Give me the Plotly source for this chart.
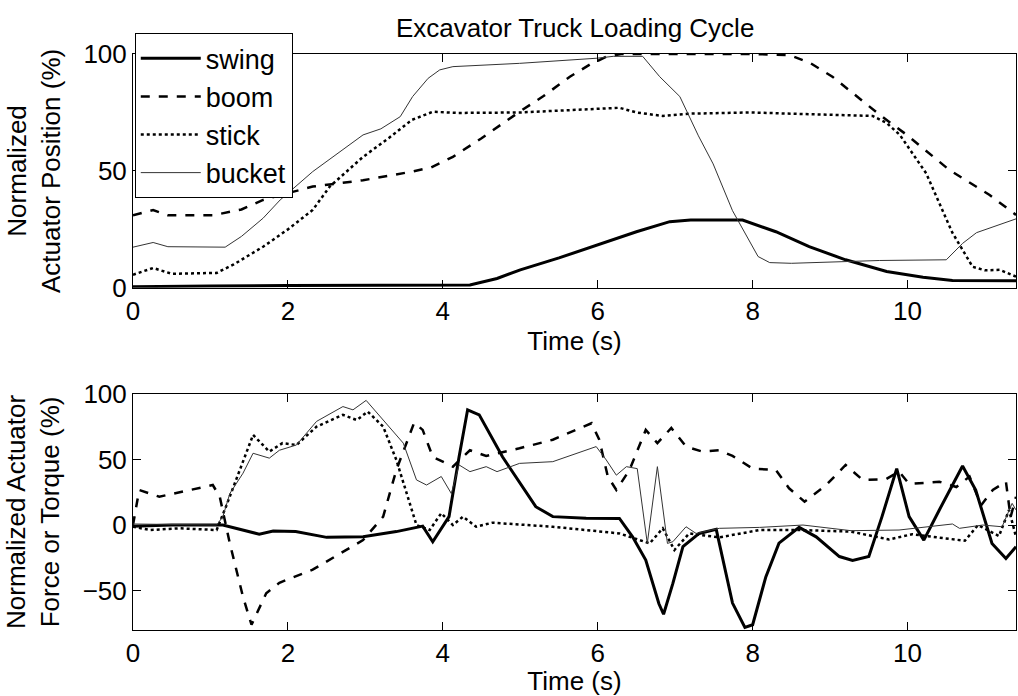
import plotly.graph_objects as go
from plotly.subplots import make_subplots

# ---------- Top: normalized actuator position ----------
pos_swing_t = [0, 0.5, 1.0, 2.0, 3.0, 4.0, 4.35, 4.7, 5.0, 5.5, 6.0, 6.5, 6.93, 7.2, 7.87, 8.3, 8.73, 9.2, 9.73, 10.2, 10.58, 11.0, 11.4]
pos_swing_v = [0.5, 0.8, 0.8, 1, 1, 1, 1.2, 4, 7.7, 12.8, 18.4, 24, 28.3, 29, 29, 24, 17.6, 12, 7, 4.5, 3.1, 3, 3]

pos_boom_t = [0, 0.26, 0.45, 1.03, 1.4, 1.68, 2.0, 2.32, 2.97, 3.6, 3.85, 4.13, 4.5, 4.99, 5.3, 5.64, 5.9, 6.11, 6.3, 7.0, 8.0, 8.48, 8.75, 9.03, 9.64, 9.99, 10.54, 11.06, 11.4]
pos_boom_v = [31, 33.3, 31, 31, 33.5, 37.6, 40.5, 43.3, 46, 49.7, 51.5, 56, 64, 75.3, 82, 90.3, 95.5, 98.8, 100, 100, 100, 99.5, 96, 90.3, 74, 65.4, 50.4, 39.7, 31.2]

pos_stick_t = [0, 0.26, 0.5, 1.08, 1.3, 1.68, 2.0, 2.32, 2.54, 2.97, 3.3, 3.6, 3.87, 4.2, 5.0, 5.7, 6.28, 6.5, 6.84, 7.2, 7.97, 9.0, 9.55, 9.73, 9.9, 10.24, 10.58, 10.84, 11.0, 11.19, 11.4]
pos_stick_v = [5.6, 8.5, 6, 6.4, 10, 17.6, 25, 33.3, 43.3, 56, 64, 71.8, 75.3, 74.8, 75, 76, 77, 75, 73.5, 74.5, 75, 74, 73.5, 70.5, 65.4, 49, 23.5, 9, 7.5, 7.7, 4.8]

pos_bucket_t = [0, 0.26, 0.45, 1.19, 1.4, 1.68, 1.9, 2.32, 2.97, 3.2, 3.45, 3.61, 3.81, 3.96, 4.13, 4.99, 5.99, 6.2, 6.58, 6.8, 7.06, 7.3, 7.49, 7.74, 8.07, 8.22, 8.5, 9.64, 10.5, 10.71, 10.89, 11.4]
pos_bucket_v = [17.4, 19.4, 17.6, 17.4, 22, 29.8, 37.6, 49.7, 65.4, 68, 73.2, 81.8, 89.6, 93.2, 94.6, 96, 98.2, 99, 99, 90.3, 81.8, 65, 53, 33, 13.4, 10.8, 10.5, 11.7, 12, 19, 23.6, 29.5]

# ---------- Bottom: normalized actuator force / torque ----------
frc_swing_t = [0, 0.5, 1.16, 1.63, 1.81, 2.1, 2.5, 2.97, 3.4, 3.74, 3.87, 4.08, 4.21, 4.32, 4.47, 4.77, 5.2, 5.42, 5.85, 6.28, 6.45, 6.62, 6.79, 6.85, 6.97, 7.1, 7.31, 7.53, 7.74, 7.9, 8.0, 8.17, 8.34, 8.6, 8.82, 9.12, 9.29, 9.5, 9.67, 9.86, 10.02, 10.21, 10.41, 10.71, 10.88, 11.09, 11.27, 11.4]
frc_swing_v = [-1, 0, 0, -7, -4.6, -5, -9.4, -9, -5, -0.8, -12.7, 6.4, 52, 87.8, 84, 52, 14, 6.4, 5.1, 5, -9, -26.7, -60, -68, -44.5, -16.5, -6.4, -3.3, -59.5, -78, -76, -39.5, -13.8, -1.8, -9, -24, -27, -24, 6.4, 43, 6.4, -11.5, 11.5, 45, 26.7, -14, -25.5, -16.5]

frc_boom_t = [0, 0.08, 0.34, 0.82, 1.03, 1.12, 1.25, 1.42, 1.53, 1.72, 1.89, 2.32, 2.76, 2.97, 3.23, 3.4, 3.63, 3.74, 3.87, 4.13, 4.35, 4.56, 4.99, 5.42, 5.92, 6.02, 6.13, 6.24, 6.41, 6.62, 6.77, 6.95, 7.14, 7.35, 7.57, 7.74, 8.0, 8.3, 8.47, 8.67, 8.95, 9.2, 9.42, 9.72, 9.89, 10.02, 10.41, 10.63, 10.8, 10.95, 11.1, 11.27, 11.33, 11.4]
frc_boom_v = [0, 26.7, 21.6, 28, 30.5, 21.6, -14, -54.7, -76, -52, -44, -34, -19, -11.5, 6.4, 42, 78, 72.5, 52, 44.5, 57, 52.7, 58.5, 65, 77.6, 65, 37, 26.7, 42, 72.5, 62.5, 74, 59.8, 56, 57, 52.7, 43, 42, 28, 17.8, 30.5, 45.8, 34.4, 34.9, 40.7, 31.3, 33, 29, 37, 15, 26.7, 33, 6, 21.6]

frc_stick_t = [0, 0.22, 0.6, 1.08, 1.2, 1.38, 1.55, 1.76, 1.93, 2.11, 2.37, 2.71, 2.89, 3.03, 3.23, 3.4, 3.53, 3.66, 3.83, 3.98, 4.13, 4.26, 4.43, 4.64, 5.42, 6.28, 6.67, 6.84, 6.99, 7.18, 7.57, 8.09, 8.6, 9.27, 9.76, 10.06, 10.74, 10.91, 11.18, 11.31, 11.4]
frc_stick_v = [-1.3, -3.8, -2.5, -3.8, 14, 42, 68.7, 56, 62.4, 61, 75, 84, 80, 86.5, 75, 49.6, 24, 0, -3.8, 9, 0, 6.4, -1.3, 1.8, -1.3, -6.4, -14, -2.5, -19, -6.4, -9.4, -3.8, -3.8, -5, -11, -7, -12, 0, -8.4, 11.5, -9]

frc_bucket_t = [0, 1.08, 1.16, 1.25, 1.42, 1.55, 1.76, 1.89, 2.11, 2.37, 2.71, 2.84, 3.01, 3.23, 3.49, 3.66, 3.79, 3.98, 4.11, 4.21, 4.35, 4.56, 4.7, 4.99, 5.42, 5.98, 6.11, 6.24, 6.37, 6.51, 6.64, 6.77, 6.9, 6.97, 7.14, 7.27, 7.57, 8.09, 8.65, 9.27, 9.89, 10.58, 10.67, 10.97, 11.22, 11.35, 11.4]
frc_bucket_v = [0.8, 0, 6.4, 24, 39.5, 54.7, 51, 57, 61, 79, 90.3, 87.8, 95, 80, 62.4, 34.4, 30.5, 37, 24, 45.8, 40.7, 44.5, 40.7, 47, 48.3, 59.8, 49.6, 38, 44.5, 43, -14, 44.5, -14, -12.7, -1.3, -6.4, -2.5, -1.8, 0, -4.3, -3.8, 0.8, -2.5, 0, -1.3, 16.5, 11.5]

x_ticks = [0, 2, 4, 6, 8, 10]
pos_ticks = [0, 50, 100]
frc_ticks = [-50, 0, 50, 100]

FONT = "Liberation Sans, Arial, sans-serif"
FS = 26
styles = {
    "swing": dict(color="black", width=3, dash="solid"),
    "boom": dict(color="black", width=2.5, dash="dash"),
    "stick": dict(color="black", width=2.5, dash="dot"),
    "bucket": dict(color="#333333", width=1, dash="solid"),
}

fig = make_subplots(rows=2, cols=1)

top = [("swing", pos_swing_t, pos_swing_v), ("boom", pos_boom_t, pos_boom_v),
       ("stick", pos_stick_t, pos_stick_v), ("bucket", pos_bucket_t, pos_bucket_v)]
bot = [("swing", frc_swing_t, frc_swing_v), ("boom", frc_boom_t, frc_boom_v),
       ("stick", frc_stick_t, frc_stick_v), ("bucket", frc_bucket_t, frc_bucket_v)]

for name, t, v in top:
    fig.add_trace(go.Scatter(x=t, y=v, mode="lines", name=name, line=styles[name],
                             showlegend=True), row=1, col=1)
for name, t, v in bot:
    fig.add_trace(go.Scatter(x=t, y=v, mode="lines", name=name, line=styles[name],
                             showlegend=False), row=2, col=1)

axis_common = dict(showgrid=False, zeroline=False, showline=True, linecolor="black",
                   linewidth=1, mirror="ticks", ticks="inside", ticklen=8,
                   tickcolor="black", tickfont=dict(family=FONT, size=FS, color="black"))

fig.update_xaxes(**axis_common, range=[0, 11.4], tickvals=x_ticks,
                 title=dict(text="Time (s)", font=dict(family=FONT, size=FS, color="black"), standoff=2))
fig.update_xaxes(domain=[0, 1], row=1, col=1)
fig.update_xaxes(domain=[0, 1], row=2, col=1)
fig.update_yaxes(**axis_common)
fig.update_yaxes(range=[0, 100], tickvals=pos_ticks, domain=[0.594, 1.0], row=1, col=1,
                 title=dict(text="Normalized<br>Actuator Position (%)",
                            font=dict(family=FONT, size=FS, color="black"), standoff=15))
fig.update_yaxes(range=[-80, 100], tickvals=frc_ticks, domain=[0, 0.41], row=2, col=1,
                 title=dict(text="Normalized Actuator<br>Force or Torque (%)",
                            font=dict(family=FONT, size=FS, color="black"), standoff=15))

fig.update_layout(
    width=1018, height=696,
    margin=dict(l=133, r=2, t=54, b=66),
    paper_bgcolor="white", plot_bgcolor="white",
    title=dict(text="Excavator Truck Loading Cycle", x=0.565, xanchor="center",
               y=1 - 28 / 696, yanchor="middle", yref="container",
               font=dict(family=FONT, size=FS, color="black")),
    legend=dict(x=0.002, y=1.036, xanchor="left", yanchor="top",
                bgcolor="white", bordercolor="black", borderwidth=1,
                font=dict(family=FONT, size=27, color="black"),
                itemwidth=60, tracegroupgap=0),
    font=dict(family=FONT, color="black"),
)

fig.write_html("out.html")
